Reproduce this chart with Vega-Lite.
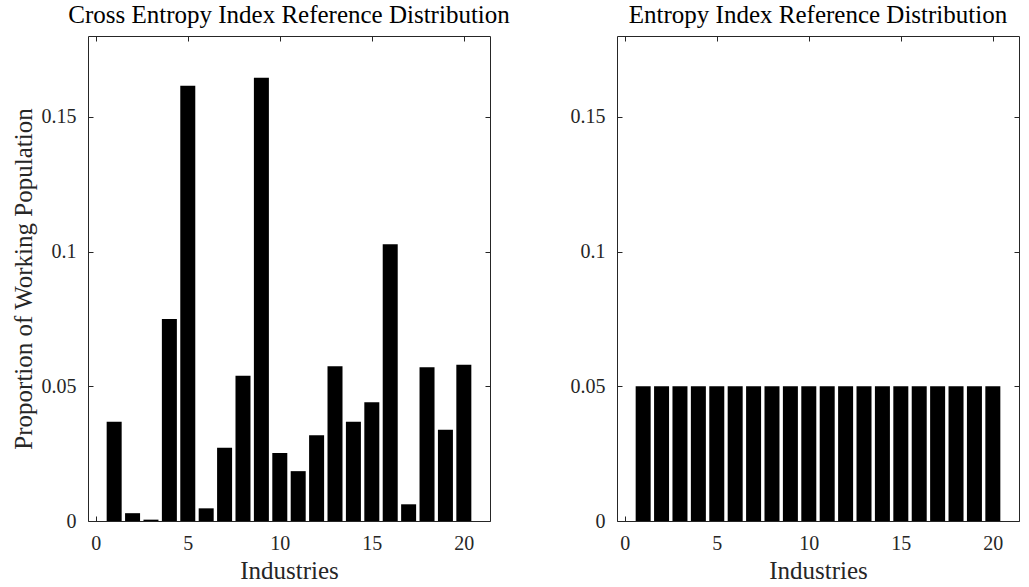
{
  "$schema": "https://vega.github.io/schema/vega-lite/v6.json",
  "background": "white",
  "padding": {"left": 10, "top": 2, "right": 0, "bottom": 0},
  "spacing": 127,
  "bounds": "flush",
  "datasets": {
    "cross": [
      {"industry": 1, "proportion": 0.0368},
      {"industry": 2, "proportion": 0.0029},
      {"industry": 3, "proportion": 0.0005},
      {"industry": 4, "proportion": 0.0750},
      {"industry": 5, "proportion": 0.1615},
      {"industry": 6, "proportion": 0.0047},
      {"industry": 7, "proportion": 0.0272},
      {"industry": 8, "proportion": 0.0539},
      {"industry": 9, "proportion": 0.1645},
      {"industry": 10, "proportion": 0.0252},
      {"industry": 11, "proportion": 0.0185},
      {"industry": 12, "proportion": 0.0318},
      {"industry": 13, "proportion": 0.0574},
      {"industry": 14, "proportion": 0.0368},
      {"industry": 15, "proportion": 0.0441},
      {"industry": 16, "proportion": 0.1027},
      {"industry": 17, "proportion": 0.0062},
      {"industry": 18, "proportion": 0.0571},
      {"industry": 19, "proportion": 0.0339},
      {"industry": 20, "proportion": 0.0580}
    ],
    "entropy": [
      {"industry": 1, "proportion": 0.05},
      {"industry": 2, "proportion": 0.05},
      {"industry": 3, "proportion": 0.05},
      {"industry": 4, "proportion": 0.05},
      {"industry": 5, "proportion": 0.05},
      {"industry": 6, "proportion": 0.05},
      {"industry": 7, "proportion": 0.05},
      {"industry": 8, "proportion": 0.05},
      {"industry": 9, "proportion": 0.05},
      {"industry": 10, "proportion": 0.05},
      {"industry": 11, "proportion": 0.05},
      {"industry": 12, "proportion": 0.05},
      {"industry": 13, "proportion": 0.05},
      {"industry": 14, "proportion": 0.05},
      {"industry": 15, "proportion": 0.05},
      {"industry": 16, "proportion": 0.05},
      {"industry": 17, "proportion": 0.05},
      {"industry": 18, "proportion": 0.05},
      {"industry": 19, "proportion": 0.05},
      {"industry": 20, "proportion": 0.05}
    ]
  },
  "hconcat": [
    {
      "title": {"text": "Cross Entropy Index Reference Distribution"},
      "width": 402,
      "height": 485,
      "data": {"name": "cross"},
      "layer": [
        {
          "mark": {"type": "bar", "color": "black", "size": 15},
          "encoding": {
            "x": {"field": "industry", "type": "quantitative",
                  "scale": {"domain": [-0.15, 21.15], "nice": false, "zero": false},
                  "axis": {"orient": "bottom", "values": [0, 5, 10, 15, 20], "title": "Industries"}},
            "y": {"field": "proportion", "type": "quantitative",
                  "scale": {"domain": [0, 0.18], "nice": false},
                  "axis": {"orient": "left", "values": [0, 0.05, 0.1, 0.15], "format": "~g", "title": "Proportion of Working Population"}}
          }
        },
        {
          "mark": {"type": "bar", "opacity": 0, "size": 15},
          "encoding": {
            "x": {"field": "industry", "type": "quantitative",
                  "axis": {"orient": "top", "values": [0, 5, 10, 15, 20], "labels": false, "title": null}},
            "y": {"field": "proportion", "type": "quantitative",
                  "axis": {"orient": "right", "values": [0, 0.05, 0.1, 0.15], "labels": false, "title": null}}
          }
        }
      ],
      "resolve": {"axis": {"x": "independent", "y": "independent"}}
    },
    {
      "title": {"text": "Entropy Index Reference Distribution"},
      "width": 402,
      "height": 485,
      "data": {"name": "entropy"},
      "layer": [
        {
          "mark": {"type": "bar", "color": "black", "size": 15},
          "encoding": {
            "x": {"field": "industry", "type": "quantitative",
                  "scale": {"domain": [-0.15, 21.15], "nice": false, "zero": false},
                  "axis": {"orient": "bottom", "values": [0, 5, 10, 15, 20], "title": "Industries"}},
            "y": {"field": "proportion", "type": "quantitative",
                  "scale": {"domain": [0, 0.18], "nice": false},
                  "axis": {"orient": "left", "values": [0, 0.05, 0.1, 0.15], "format": "~g", "title": null}}
          }
        },
        {
          "mark": {"type": "bar", "opacity": 0, "size": 15},
          "encoding": {
            "x": {"field": "industry", "type": "quantitative",
                  "axis": {"orient": "top", "values": [0, 5, 10, 15, 20], "labels": false, "title": null}},
            "y": {"field": "proportion", "type": "quantitative",
                  "axis": {"orient": "right", "values": [0, 0.05, 0.1, 0.15], "labels": false, "title": null}}
          }
        }
      ],
      "resolve": {"axis": {"x": "independent", "y": "independent"}}
    }
  ],
  "config": {
    "font": "Liberation Serif",
    "view": {"stroke": "#262626", "strokeWidth": 1},
    "title": {"fontSize": 25, "fontWeight": "normal", "color": "black", "anchor": "middle", "offset": 8, "font": "Liberation Serif"},
    "axis": {
      "grid": false,
      "domain": false,
      "tickColor": "#262626",
      "tickSize": -5,
      "labelFont": "Liberation Serif",
      "labelFontSize": 20,
      "labelColor": "#262626",
      "labelPadding": 17,
      "titleFont": "Liberation Serif",
      "titleFontSize": 25,
      "titleFontWeight": "normal",
      "titleColor": "#262626",
      "titlePadding": 5
    }
  }
}
